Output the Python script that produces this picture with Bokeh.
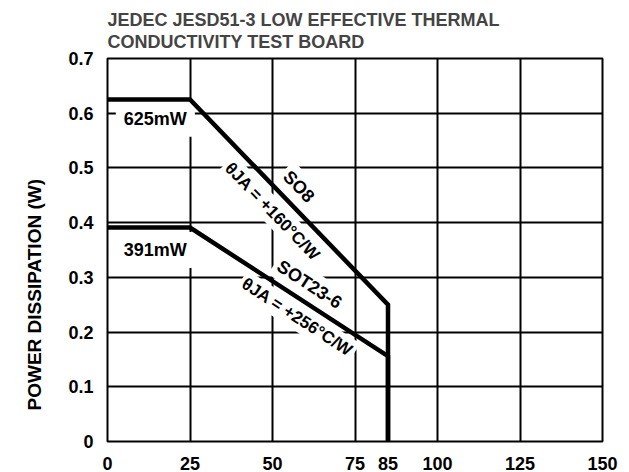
import math
from bokeh.plotting import figure
from bokeh.models import FixedTicker, Label, Range1d, Title
from bokeh.embed import file_html
from bokeh.resources import INLINE

# ---- data ----
temp_so8 = [0, 25, 85, 85]
power_so8 = [0.625, 0.625, 0.25, 0.0]
temp_sot = [0, 25, 85, 85]
power_sot = [0.391, 0.391, 0.156, 0.0]
x_ticks = [0, 25, 50, 75, 85, 100, 125, 150]
y_ticks = [0, 0.1, 0.2, 0.3, 0.4, 0.5, 0.6, 0.7]
x_grid = [25, 50, 75, 100, 125]
y_grid = [0.1, 0.2, 0.3, 0.4, 0.5, 0.6]

FONT = "Liberation Sans"
FS = "18px"

W, H = 629, 472
BL, BR, BT, BB = 107, 27, 58, 29

p = figure(width=W, height=H, output_backend="svg", toolbar_location=None,
           x_range=Range1d(0, 150), y_range=Range1d(0, 0.7),
           min_border_left=BL, min_border_right=BR,
           min_border_top=BT, min_border_bottom=BB)

p.title.text = "JEDEC JESD51-3 LOW EFFECTIVE THERMAL\nCONDUCTIVITY TEST BOARD"
p.title.text_font = FONT
p.title.text_font_size = FS
p.title.text_font_style = "bold"
p.title.align = "left"
p.title.text_line_height = 1.12
p.title.standoff = 13

p.outline_line_color = "black"
p.outline_line_width = 2
p.outline_line_alpha = 1.0
p.background_fill_color = "white"
p.border_fill_color = "white"

p.xaxis.ticker = FixedTicker(ticks=x_ticks)
p.yaxis.ticker = FixedTicker(ticks=y_ticks)
p.yaxis.major_label_overrides = {0: "0"}
for ax in (p.xaxis[0], p.yaxis[0]):
    ax.axis_line_color = None
    ax.major_tick_line_color = None
    ax.minor_tick_line_color = None
    ax.major_label_text_font = FONT
    ax.major_label_text_font_size = FS
    ax.major_label_text_font_style = "bold"
    ax.major_label_text_color = "black"
p.xaxis.major_label_standoff = 9
p.yaxis.major_label_standoff = 8

p.xgrid.ticker = FixedTicker(ticks=x_grid)
p.ygrid.ticker = FixedTicker(ticks=y_grid)
for g in (p.xgrid[0], p.ygrid[0]):
    g.grid_line_color = "black"
    g.grid_line_width = 2
    g.grid_line_alpha = 1.0

p.line(temp_so8, power_so8, line_color="black", line_width=4.5,
       line_join="miter", line_cap="square")
p.line(temp_sot, power_sot, line_color="black", line_width=4.5,
       line_join="miter", line_cap="square")

frame_w = W - BL - BR
frame_h = 384
sx = frame_w / 150.0
sy = frame_h / 0.7
ang_so8 = math.atan2((power_so8[2] - power_so8[1]) * sy, (temp_so8[2] - temp_so8[1]) * sx)
ang_sot = math.atan2((power_sot[2] - power_sot[1]) * sy, (temp_sot[2] - temp_sot[1]) * sx)

def lab(x, y, text, angle=0.0, pad=5, size=FS):
    l = Label(x=x, y=y, text=text, angle=angle,
              text_font=FONT, text_font_size=size, text_font_style="bold",
              text_align="center", text_baseline="middle", text_color="black",
              background_fill_color="white", background_fill_alpha=1.0,
              padding=pad, level="underlay")
    p.add_layout(l)

lab(14.5, 0.59, "625mW", pad=8)
lab(14.5, 0.35, "391mW", pad=8)
lab(58.0, 0.466, "SO8", ang_so8, pad=4)
lab(50.0, 0.42, "\u03b8JA = +160\u00b0C/W", ang_so8, pad=3, size="17px")
lab(61.2, 0.287, "SOT23-6", ang_sot, pad=4)
lab(57.5, 0.227, "\u03b8JA = +256\u00b0C/W", ang_sot, pad=3, size="17px")

ytitle = Title(text="POWER DISSIPATION (W)", align="left", offset=31,
               vertical_align="top", standoff=37,
               text_font=FONT, text_font_size="19px", text_font_style="bold",
               text_color="black")
p.add_layout(ytitle, "left")

open("out.html", "w").write(file_html(p, INLINE))
